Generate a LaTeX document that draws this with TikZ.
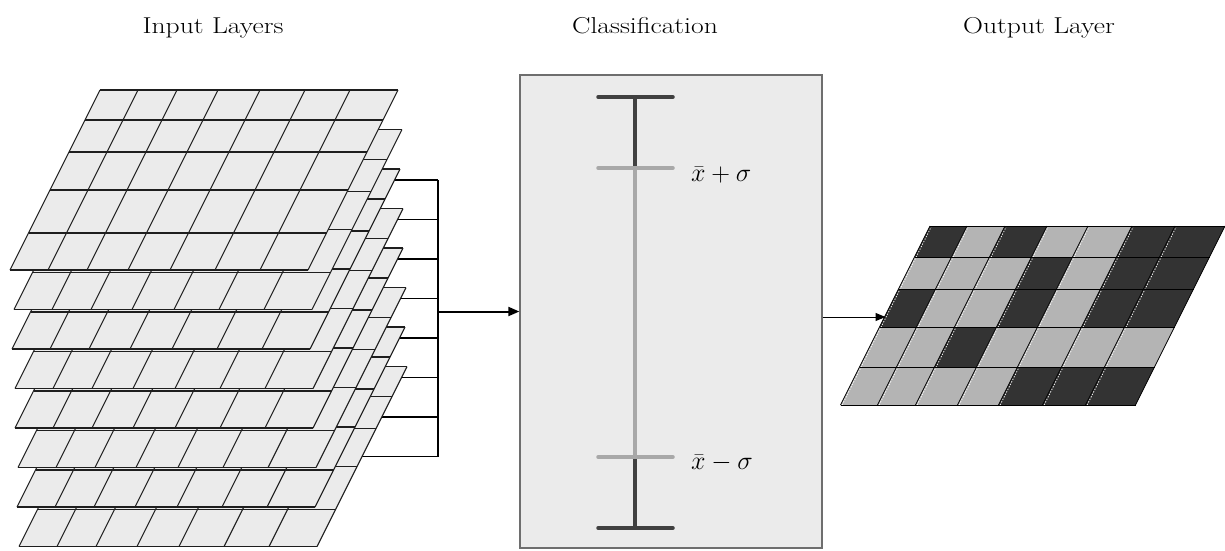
\RequirePackage{fix-cm}
\documentclass[tikz,border=0pt]{standalone}
\usepackage{graphicx}
\usepackage{fontspec}
\usetikzlibrary{arrows.meta,calc}
\definecolor{layerfill}{HTML}{EBEBEB}
\definecolor{boxfill}{HTML}{EBEBEB}
\definecolor{boxline}{HTML}{6E6E6E}
\definecolor{bardark}{HTML}{404040}
\definecolor{barlight}{HTML}{A8A8A8}
\definecolor{celldark}{HTML}{333333}
\definecolor{celllight}{HTML}{B4B4B4}
\definecolor{gridink}{HTML}{1E1E1E}

\tikzset{
  gridline/.style={draw=gridink, line width=1.1pt},
  outline/.style={draw=black, line width=0.9pt},
  bracketline/.style={draw=black, line width=1.1pt},
  titletext/.style={anchor=base, font=\fontsize{23}{27}\selectfont, inner sep=0pt},
  sigmatext/.style={anchor=base west, font=\fontsize{26}{30}\selectfont, inner sep=0pt},
  bardarkline/.style={draw=bardark, line width=3.5pt, line cap=round},
  barlightline/.style={draw=barlight, line width=3.5pt, line cap=round},
  cellD/.style={fill=celldark},
  cellL/.style={fill=celllight},
}

% one input layer: #1 = name, #2 = x of top-left, #3 = y of top-left
\newcommand{\inlayer}[3]{%
  \fill[layerfill] (#2,#3) -- ++(298,0) -- ++(-90,180) -- ++(-298,0) -- cycle;
  \foreach \v in {0,30,62,100,143,180}
    \draw[gridline] ({#2-0.5*\v},{#3+\v}) -- ++(298,0);
  \foreach \u in {0,38,77,118,160,205,250,298}
    \draw[gridline] ({#2+\u},#3) -- ++(-90,180);
}
\newcommand{\inlayercoord}[3]{\coordinate (#1) at ({#2+253},{#3+90});}

\def\ucols{{0,37,75,117,158,202,245,295}}
% one row of the output layer: #1 top v, #2 bottom v, #3 colour pattern
\newcommand{\outrow}[3]{%
  \foreach \col [count=\i from 0] in {#3} {
    \pgfmathsetmacro\ua{\ucols[\i]}
    \pgfmathsetmacro\ub{\ucols[\i+1]}
    \fill[cell\col] ({930+\ua-0.5*#1},{226+#1}) -- ({930+\ub-0.5*#1},{226+#1})
      -- ({930+\ub-0.5*#2},{226+#2}) -- ({930+\ua-0.5*#2},{226+#2}) -- cycle;
  }
}

\begin{document}
\begin{tikzpicture}[x=1pt,y=-1pt]
\useasboundingbox (0,0) rectangle (1225,550);

% titles
\node[titletext] (tin) at (213,33) {\scalebox{1.2}[1]{Input Layers}};
\node[titletext] (tcl) at (645,33) {\scalebox{1.2}[1]{Classification}};
\node[titletext] (tout) at (1039,33) {\scalebox{1.2}[1]{Output Layer}};

% layer anchor points (middle of right edge)
\inlayercoord{L0}{100}{90}
\inlayercoord{L1}{104}{129.5}
\inlayercoord{L2}{102}{169}
\inlayercoord{L3}{105}{208.5}
\inlayercoord{L4}{105}{248}
\inlayercoord{L5}{108}{287.5}
\inlayercoord{L6}{107}{327}
\inlayercoord{L7}{109}{366.5}
\coordinate (busx) at (438,0);

% classification box
\node[draw=boxline, fill=boxfill, line width=1.3pt, minimum width=302pt,
      minimum height=473pt, inner sep=0pt] (cls) at (671,311.5) {};

% bracket lines behind the layers
\foreach \k in {0,...,7}
  \draw[bracketline] (L\k) -- (L\k -| busx);
\draw[bracketline] (L0 -| busx) -- (L7 -| busx);
\draw[draw=black, line width=2pt, -{Triangle[length=11pt,width=9pt]}]
  (cls.west -| busx) -- (cls.west);

% input layers, back to front
\inlayer{I7}{109}{366.5}
\inlayer{I6}{107}{327}
\inlayer{I5}{108}{287.5}
\inlayer{I4}{105}{248}
\inlayer{I3}{105}{208.5}
\inlayer{I2}{102}{169}
\inlayer{I1}{104}{129.5}
\inlayer{I0}{100}{90}

% error bar
\coordinate (ctop) at (635,97);
\coordinate (cup) at (635,168);
\coordinate (clow) at (635,457);
\coordinate (cbot) at (635,528);
\draw[barlightline] (cup) -- (clow);
\draw[bardarkline, line cap=butt] (ctop) -- (cup);
\draw[bardarkline, line cap=butt] (clow) -- (cbot);
\draw[barlightline] ($(cup)+(-37,0)$) -- ($(cup)+(38,0)$);
\draw[barlightline] ($(clow)+(-37,0)$) -- ($(clow)+(38,0)$);
\draw[bardarkline] ($(ctop)+(-37,0)$) -- ($(ctop)+(38,0)$);
\draw[bardarkline] ($(cbot)+(-37,0)$) -- ($(cbot)+(38,0)$);
\node[sigmatext] (splus) at (691,181) {$\bar{x}+\sigma$};
\node[sigmatext] (sminus) at (691,469) {$\bar{x}-\sigma$};

% output layer
\outrow{0}{31}{D,L,D,L,L,D,D}
\outrow{31}{63}{L,L,L,D,L,D,D}
\outrow{63}{101}{D,L,L,D,L,D,D}
\outrow{101}{141}{L,L,D,L,L,L,L}
\outrow{141}{179}{L,L,L,L,D,D,D}
\foreach \u in {0,37,75,117,158,202,245,295} {
  \draw[draw=black, line width=0.8pt] ({930+\u},226) -- ++(-89.5,179);
  \draw[draw=white, line width=0.7pt, dash pattern=on 1.2pt off 1.6pt] ({931.6+\u},226) -- ++(-89.5,179);
}
\foreach \v in {0,31,63,101,141,179}
  \draw[outline] ({930-0.5*\v},{226+\v}) -- ++(295,0);
\coordinate (oin) at (885.5,317);

\draw[draw=black, line width=1pt, -{Triangle[length=10pt,width=8pt]}]
  (cls.east |- oin) -- (oin);
\end{tikzpicture}
\end{document}
